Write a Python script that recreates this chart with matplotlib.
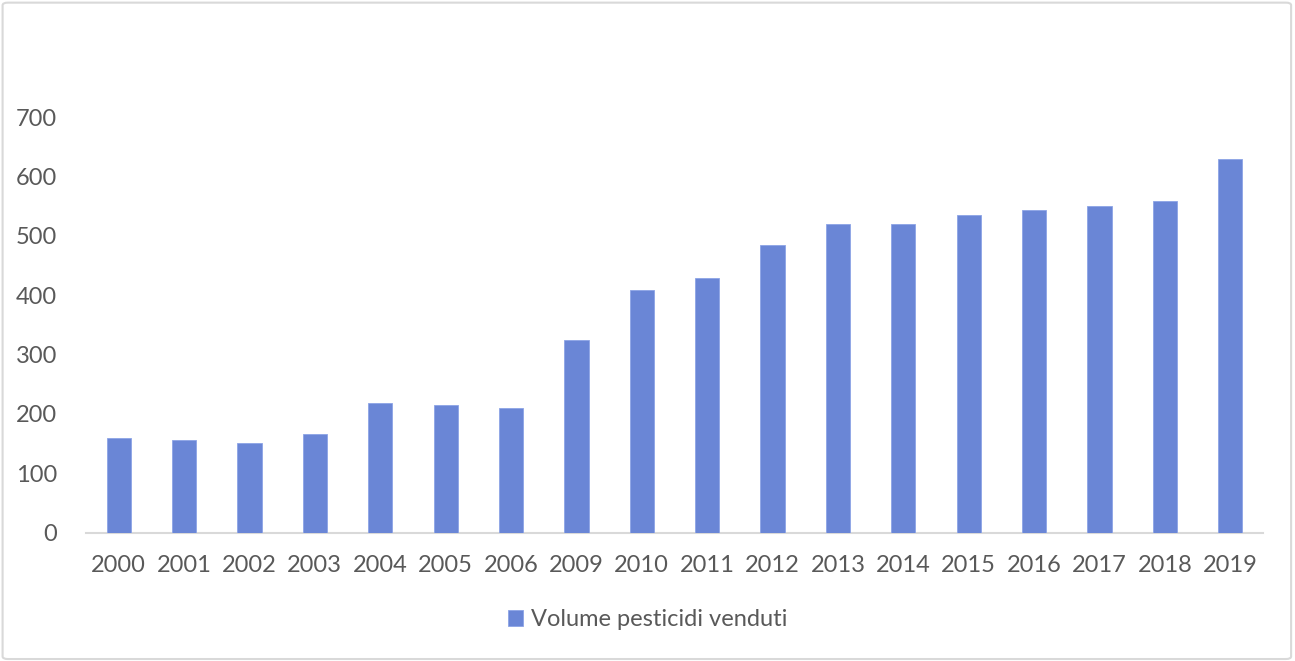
import matplotlib.pyplot as plt
from matplotlib.patches import FancyBboxPatch

# Volume di pesticidi venduti per anno
anni = ['2000', '2001', '2002', '2003', '2004', '2005', '2006', '2009', '2010',
        '2011', '2012', '2013', '2014', '2015', '2016', '2017', '2018', '2019']
volumi = [159, 155, 151, 166, 219, 214, 209, 325, 408,
          428, 484, 519, 519, 535, 544, 550, 558, 629]

plt.rcParams['font.family'] = ['Lato', 'DejaVu Sans']

fig = plt.figure(figsize=(12.95, 6.61), dpi=100)
ax = fig.add_axes([86 / 1295, 1 - 532.5 / 661, (1263 - 86) / 1295, (532.5 - 117) / 661])

# light frame around the whole chart
frame = FancyBboxPatch((0.002, 0.003), 0.995, 0.993, boxstyle='round,pad=0,rounding_size=0.004',
                       transform=fig.transFigure, fill=False, edgecolor='#D9D9D9', linewidth=1.5)
fig.patches.append(frame)

x = range(len(anni))
ax.bar(x, volumi, width=0.37, color='#6A86D6', edgecolor='#8CA4E6', linewidth=0.6,
       label='Volume pesticidi venduti', zorder=3)

ax.set_xlim(-0.5, len(anni) - 0.5)
ax.set_ylim(0, 700)
ax.set_yticks(range(0, 701, 100))
ax.set_xticks(list(x))
ax.set_xticklabels(anni)

for side in ['top', 'right', 'left']:
    ax.spines[side].set_visible(False)
ax.spines['bottom'].set_color('#D9D9D9')
ax.spines['bottom'].set_linewidth(1.5)

ax.tick_params(axis='both', length=0, labelsize=17, labelcolor='#595959')
ax.tick_params(axis='x', pad=16)
ax.tick_params(axis='y', pad=21)

fig.legend(loc='center', bbox_to_anchor=(0.5, 1 - 620 / 661), frameon=False,
           fontsize=17, labelcolor='#595959', handlelength=0.65, handleheight=0.65,
           handletextpad=0.3)

fig.savefig('out.png', dpi=100, facecolor='white')
